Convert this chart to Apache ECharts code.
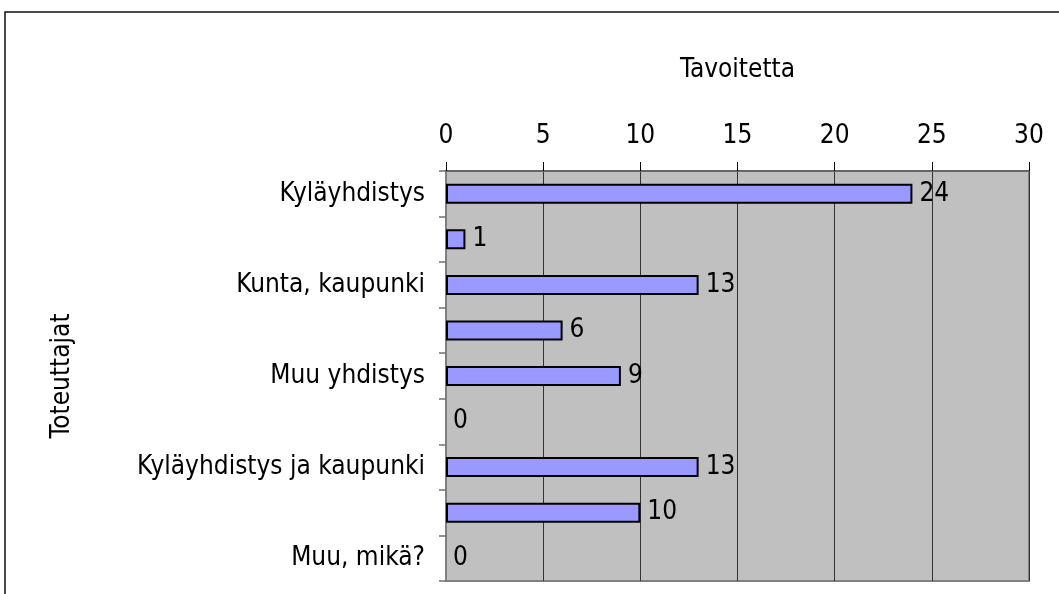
<!DOCTYPE html>
<html>
<head>
<meta charset="utf-8">
<script src="https://cdn.jsdelivr.net/npm/echarts@6/dist/echarts.min.js"></script>
<style>
html,body{margin:0;padding:0;background:#fff;}
#chart{width:1059px;height:594px;}
</style>
</head>
<body>
<div id="chart"></div>
<script>
const categories = ['Kyläyhdistys', '', 'Kunta, kaupunki', '', 'Muu yhdistys', '', 'Kyläyhdistys ja kaupunki', '', 'Muu, mikä?'];
const values = [24, 1, 13, 6, 9, 0, 13, 10, 0];
const xTicks = [0, 5, 10, 15, 20, 25, 30];
const xAxisTitle = 'Tavoitetta';
const yAxisTitle = 'Toteuttajat';

const FONT = "'DejaVu Sans Condensed', 'DejaVu Sans', sans-serif";
const FS = 26;

const chart = echarts.init(document.getElementById('chart'), null, {renderer: 'canvas'});
chart.setOption({
  animation: false,
  backgroundColor: '#fff',
  textStyle: {fontFamily: FONT, color: '#000'},
  graphic: [{
    type: 'rect', silent: true, z: -10,
    shape: {x: 5, y: 12, width: 1200, height: 800},
    style: {fill: 'none', stroke: '#111', lineWidth: 1.5}
  }],
  grid: {
    left: 446, right: 30, top: 171, bottom: 13,
    show: true, backgroundColor: '#C0C0C0', borderColor: '#808080', borderWidth: 2
  },
  xAxis: {
    type: 'value', position: 'top',
    min: xTicks[0], max: xTicks[xTicks.length - 1], interval: xTicks[1] - xTicks[0],
    name: xAxisTitle, nameLocation: 'middle', nameGap: 88,
    nameTextStyle: {fontFamily: FONT, fontSize: FS, color: '#000'},
    axisLine: {show: true, lineStyle: {color: '#666', width: 2}},
    axisTick: {show: true, length: 9, inside: false, lineStyle: {color: '#000', width: 1}},
    axisLabel: {fontFamily: FONT, fontSize: FS, color: '#000', margin: 22},
    splitLine: {show: true, lineStyle: {color: '#333', width: 1}}
  },
  yAxis: {
    type: 'category', inverse: true, data: categories,
    name: yAxisTitle, nameLocation: 'middle', nameGap: 371, nameRotate: 90,
    nameTextStyle: {fontFamily: FONT, fontSize: FS, color: '#000'},
    axisLine: {show: true, lineStyle: {color: '#808080', width: 2}},
    axisTick: {show: true, interval: 0, length: 7, lineStyle: {color: '#707070', width: 1.5}},
    axisLabel: {interval: 0, fontFamily: FONT, fontSize: FS, color: '#000', margin: 21},
    splitLine: {show: false}
  },
  series: [{
    type: 'bar',
    barWidth: 20,
    data: values.map(v => v === 0 ? {value: v, itemStyle: {borderWidth: 0}} : v),
    itemStyle: {color: '#9999FF', borderColor: '#000', borderWidth: 2},
    label: {show: true, position: 'right', distance: 7, fontFamily: FONT, fontSize: FS, color: '#000'}
  }]
});
</script>
</body>
</html>
